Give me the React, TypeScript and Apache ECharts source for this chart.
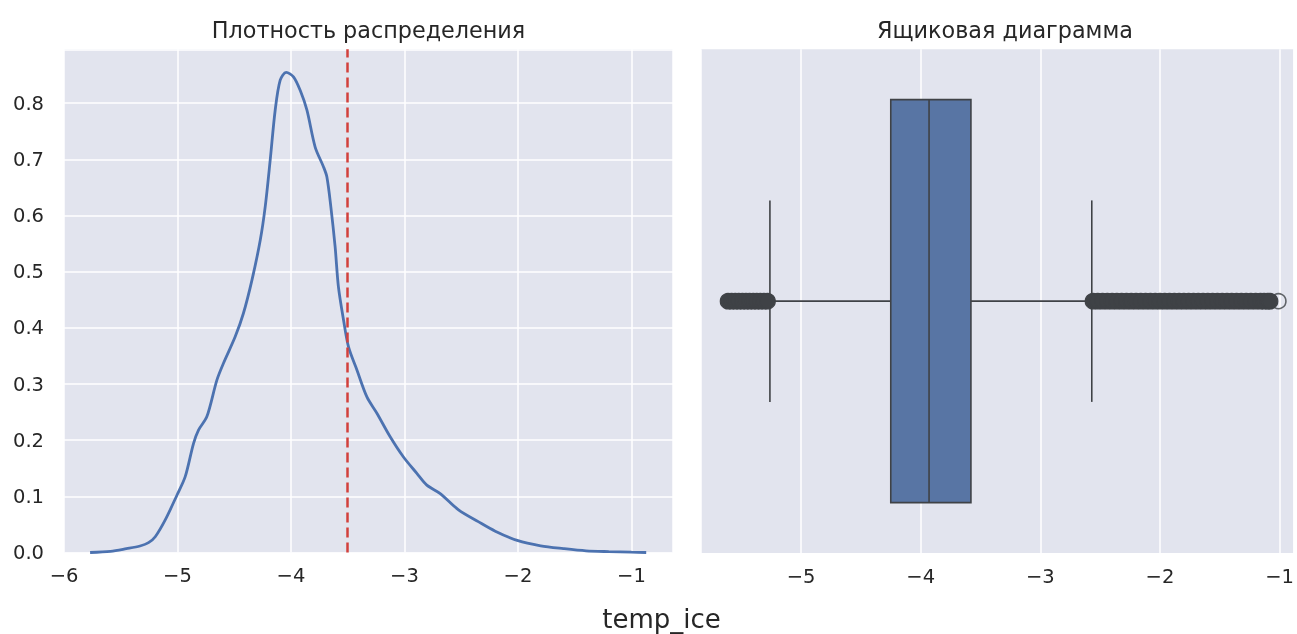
import React, { useEffect, useRef } from "react";
import * as echarts from "echarts";

// ---- data ----
const kdeX = [
  -5.77, -5.59, -5.45, -5.33, -5.255, -5.196, -5.108, -5.005, -4.932, -4.859,
  -4.815, -4.741, -4.653, -4.595, -4.492, -4.419, -4.344, -4.271, -4.227, -4.183,
  -4.139, -4.095, -4.042, -3.978, -3.919, -3.86, -3.787, -3.714, -3.684, -3.649,
  -3.611, -3.582, -3.537, -3.493, -3.419, -3.331, -3.243, -3.126, -3.009, -2.891,
  -2.803, -2.685, -2.524, -2.35, -2.2, -2.0, -1.8, -1.6, -1.4, -1.2, -1.0, -0.87,
];
const kdeY = [
  0.0, 0.002, 0.0068, 0.0116, 0.0175, 0.028, 0.058, 0.102, 0.135, 0.194,
  0.218, 0.242, 0.307, 0.337, 0.384, 0.426, 0.485, 0.556, 0.616, 0.699,
  0.788, 0.841, 0.855, 0.847, 0.823, 0.788, 0.722, 0.687, 0.669, 0.616,
  0.544, 0.473, 0.414, 0.366, 0.325, 0.277, 0.248, 0.206, 0.17, 0.141,
  0.12, 0.105, 0.076, 0.055, 0.038, 0.021, 0.012, 0.007, 0.003, 0.0015, 0.0005, 0.0,
];
const meanValue = -3.5;

// lower whisker, Q1, median, Q3, upper whisker
const boxStats = [-5.26, -4.25, -3.93, -3.58, -2.57];
const lowOutliers = [-5.61, -5.58, -5.55, -5.52, -5.49, -5.46, -5.43, -5.4, -5.37, -5.34, -5.31, -5.28];
const highOutliers = [
  -2.56, -2.52, -2.48, -2.44, -2.4, -2.36, -2.32, -2.28, -2.24, -2.2, -2.16, -2.12,
  -2.08, -2.04, -2.0, -1.96, -1.92, -1.88, -1.84, -1.8, -1.76, -1.72, -1.68, -1.64,
  -1.6, -1.56, -1.52, -1.48, -1.44, -1.4, -1.36, -1.32, -1.28, -1.24, -1.2, -1.16,
  -1.13, -1.1, -1.08,
];
const sparseOutliers = [-1.01];

const titleLeft = "Плотность распределения";
const titleRight = "Ящиковая диаграмма";
const xLabel = "temp_ice";
const category = ["temp_ice"];

// ---- styles ----
const FONT = "DejaVu Sans";
const TEXT = "#262626";
const BG = "#E2E4EE";
const BLUE = "#4C72B0";
const BOX = "#5875A4";
const GRAY = "#3F4246";

const fmtInt = (v: number) => {
  const r = Math.round(v);
  if (Math.abs(v - r) > 1e-6) return "";
  return String(r).replace("-", "\u2212");
};
const fmtTenth = (v: number) => {
  const r = Math.round(v * 10);
  if (Math.abs(v * 10 - r) > 1e-6) return "";
  return (r / 10).toFixed(1);
};

export default function App() {
  const ref = useRef<HTMLDivElement>(null);
  useEffect(() => {
    if (!ref.current) return;
    const chart = echarts.init(ref.current, undefined, { renderer: "svg" });
    const splitLine = { show: true, lineStyle: { color: "#ffffff", width: 1.5 } };
    const axisLabel = { color: TEXT, fontSize: 19.5, fontFamily: FONT };
    const outlierData = [...lowOutliers, ...highOutliers].map((v) => [v, 0]);
    chart.setOption({
      animation: false,
      textStyle: { fontFamily: FONT },
      grid: [
        { left: 64, top: 49.3, width: 609, height: 503.2, show: true, backgroundColor: BG, borderWidth: 0 },
        { left: 701, top: 49.3, width: 596, height: 503.7, show: true, backgroundColor: BG, borderWidth: 0 },
      ],
      xAxis: [
        {
          type: "value", gridIndex: 0, min: -6, max: -0.634, interval: 1,
          axisLine: { show: false }, axisTick: { show: false }, splitLine,
          axisLabel: { ...axisLabel, margin: 13, formatter: fmtInt },
        },
        {
          type: "value", gridIndex: 1, min: -5.836, max: -0.886, splitNumber: 5,
          axisLine: { show: false }, axisTick: { show: false }, splitLine,
          axisLabel: { ...axisLabel, margin: 13, formatter: fmtInt },
        },
      ],
      yAxis: [
        {
          type: "value", gridIndex: 0, min: 0, max: 0.896, interval: 0.1,
          axisLine: { show: false }, axisTick: { show: false }, splitLine,
          axisLabel: { ...axisLabel, margin: 20, formatter: fmtTenth },
        },
        {
          type: "category", gridIndex: 1, data: category,
          axisLine: { show: false }, axisTick: { show: false },
          axisLabel: { show: false }, splitLine: { show: false },
        },
      ],
      series: [
        {
          type: "line", xAxisIndex: 0, yAxisIndex: 0,
          data: kdeX.map((x, i) => [x, kdeY[i]]),
          showSymbol: false, smooth: 0.3,
          lineStyle: { color: BLUE, width: 2.8 },
          markLine: {
            silent: true, symbol: "none", label: { show: false },
            lineStyle: { color: "#D2403C", type: [10, 5], width: 2.5 },
            data: [{ xAxis: meanValue }],
          },
        },
        {
          type: "custom", xAxisIndex: 1, yAxisIndex: 1,
          data: [[0, ...boxStats]],
          encode: { x: [1, 2, 3, 4, 5], y: 0 },
          renderItem: (params: any, api: any) => {
            const cat = api.value(0);
            const px = (v: number) => api.coord([v, cat])[0];
            const yc = api.coord([boxStats[2], cat])[1];
            const band = api.size([0, 1])[1];
            const bh = band * 0.8;
            const ch = band * 0.4;
            const lo = px(api.value(1)), q1 = px(api.value(2)), md = px(api.value(3)), q3 = px(api.value(4)), hi = px(api.value(5));
            const ls = { stroke: GRAY, lineWidth: 1.6 };
            return {
              type: "group",
              children: [
                { type: "line", shape: { x1: lo, y1: yc, x2: q1, y2: yc }, style: ls },
                { type: "line", shape: { x1: q3, y1: yc, x2: hi, y2: yc }, style: ls },
                { type: "line", shape: { x1: lo, y1: yc - ch / 2, x2: lo, y2: yc + ch / 2 }, style: ls },
                { type: "line", shape: { x1: hi, y1: yc - ch / 2, x2: hi, y2: yc + ch / 2 }, style: ls },
                { type: "rect", shape: { x: q1, y: yc - bh / 2, width: q3 - q1, height: bh }, style: { fill: BOX, stroke: GRAY, lineWidth: 1.6 } },
                { type: "line", shape: { x1: md, y1: yc - bh / 2, x2: md, y2: yc + bh / 2 }, style: ls },
              ],
            };
          },
        },
        {
          type: "scatter", xAxisIndex: 1, yAxisIndex: 1,
          data: sparseOutliers.map((v) => [v, 0]),
          symbol: "circle", symbolSize: 15,
          itemStyle: { color: "rgba(0,0,0,0)", borderColor: GRAY, borderWidth: 1.6 },
          z: 2,
        },
        {
          type: "scatter", xAxisIndex: 1, yAxisIndex: 1,
          data: outlierData,
          symbol: "circle", symbolSize: 15.5,
          itemStyle: { color: GRAY, borderColor: GRAY, borderWidth: 1.2, opacity: 1 },
          z: 3,
        },
      ],
      graphic: [
        { type: "text", x: 368.5, y: 29.5, style: { text: titleLeft, fill: TEXT, font: `22.3px '${FONT}'`, align: "center", verticalAlign: "middle" } },
        { type: "text", x: 1005, y: 29.5, style: { text: titleRight, fill: TEXT, font: `22.3px '${FONT}'`, align: "center", verticalAlign: "middle" } },
        { type: "text", x: 661.5, y: 619, style: { text: xLabel, fill: TEXT, font: `26px '${FONT}'`, align: "center", verticalAlign: "middle" } },
      ],
    });
    return () => chart.dispose();
  }, []);
  return <div ref={ref} style={{ position: "fixed", left: 0, top: 0, width: 1297, height: 634 }} />;
}
